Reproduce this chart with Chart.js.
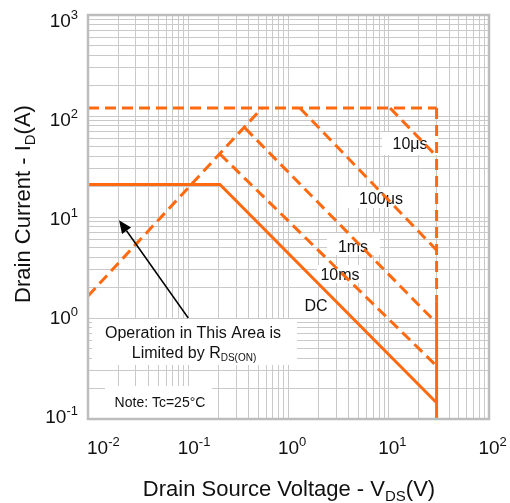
<!DOCTYPE html>
<html>
<head>
<meta charset="utf-8">
<script src="https://cdn.jsdelivr.net/npm/chart.js@4.4.0/dist/chart.umd.min.js"></script>
<style>
  html, body { margin: 0; padding: 0; background: #fff; }
</style>
</head>
<body>
<canvas id="soa" width="510" height="503"></canvas>
<script>
// ---- SOA curves (V in volts, I in amps) ----
const rdsV = [0.01, 0.545];
const rdsI = [1.65, 120];
const limitV = [0.01, 30];
const limitI = [120, 120];
const us10V = [10.3, 30];
const us10I = [120, 40];
const us100V = [1.3, 30];
const us100I = [120, 4.7];
const ms1V = [0.368, 30];
const ms1I = [76, 0.89];
const ms10V = [0.207, 30];
const ms10I = [42, 0.335];
const dcV = [0.01, 0.207, 30];
const dcI = [21, 21, 0.145];
const vmaxV = [30, 30];
const vmaxPulseI = [120, 1.45];
const vmaxDcI = [1.45, 0.1];

// axis decades + tick label exponents
const xDecades = [-2, -1, 0, 1, 2];
const yDecades = [-1, 0, 1, 2, 3];
const xTickLabels = ['-2', '-1', '0', '1', '2'];
const yTickLabels = ['-1', '0', '1', '2', '3'];
const minorSteps = [1, 2, 3, 4, 5, 6, 7, 8, 9];

const ORANGE = '#ff6a10';
const FONT = '"Liberation Sans", Arial, sans-serif';

function gridValues(decades) {
  const vals = [];
  decades.forEach((d, i) => {
    if (i === decades.length - 1) { vals.push(Math.pow(10, d)); return; }
    minorSteps.forEach(m => vals.push(m * Math.pow(10, d)));
  });
  return vals;
}

function toPoints(xs, ys) {
  return xs.map((x, i) => ({ x, y: ys[i] }));
}

function curve(label, xs, ys, dashed) {
  return {
    label,
    data: toPoints(xs, ys),
    showLine: true,
    borderColor: ORANGE,
    borderWidth: 3,
    borderDash: dashed ? [11, 6] : [],
    borderCapStyle: 'butt',
    pointRadius: 0,
    fill: false,
    tension: 0,
  };
}

// draw text made of pieces (normal / sub / sup)
function drawRich(ctx, parts, x, y, align) {
  let total = 0;
  parts.forEach(p => {
    ctx.font = p.size + 'px ' + FONT;
    p.w = ctx.measureText(p.t).width;
    total += p.w;
  });
  let cx = align === 'center' ? x - total / 2 : align === 'right' ? x - total : x;
  ctx.textAlign = 'left';
  ctx.textBaseline = 'alphabetic';
  parts.forEach(p => {
    ctx.font = p.size + 'px ' + FONT;
    ctx.fillText(p.t, cx, y + (p.dy || 0));
    cx += p.w;
  });
  return total;
}

// labels sitting on white patches over the grid
const curveLabels = [
  { text: '10μs', cx: 410, cy: 143, box: [382, 132, 56, 23] },
  { text: '100μs', cx: 381, cy: 198, box: [348, 187, 69, 21] },
  { text: '1ms', cx: 353, cy: 246, box: [327, 233, 53, 22] },
  { text: '10ms', cx: 340, cy: 274, box: [317, 265, 45, 18] },
  { text: 'DC', cx: 316, cy: 305, box: null },
];

const soaDecor = {
  id: 'soaDecor',
  beforeDatasetsDraw(chart) {
    const ctx = chart.ctx;
    ctx.save();
    ctx.fillStyle = '#fff';
    // annotation + note patches
    ctx.fillRect(92, 319, 205, 46);
    ctx.fillRect(105, 386, 107, 33);
    curveLabels.forEach(l => { if (l.box) ctx.fillRect(l.box[0], l.box[1], l.box[2], l.box[3]); });

    ctx.fillStyle = '#111';
    curveLabels.forEach(l => {
      drawRich(ctx, [{ t: l.text, size: 16 }], l.cx, l.cy + 6, 'center');
    });
    drawRich(ctx, [{ t: 'Operation in This Area is', size: 16 }], 193, 338, 'center');
    drawRich(ctx, [
      { t: 'Limited by R', size: 16 },
      { t: 'DS(ON)', size: 10, dy: 3 },
    ], 194, 358, 'center');
    drawRich(ctx, [{ t: 'Note: Tc=25°C', size: 14 }], 160, 407, 'center');
    ctx.restore();
  },
  afterDatasetsDraw(chart) {
    const ctx = chart.ctx;
    const a = chart.chartArea;
    const xs = chart.scales.x, ys = chart.scales.y;
    ctx.save();
    // plot frame
    ctx.strokeStyle = '#bdbdbd';
    ctx.lineWidth = 2.5;
    ctx.strokeRect(a.left, a.top, a.right - a.left, a.bottom - a.top);

    // arrow pointing into the Rds(on) limited region
    const x0 = xs.getPixelForValue(0.1), y0 = ys.getPixelForValue(1.0);
    const x1 = xs.getPixelForValue(0.0204), y1 = ys.getPixelForValue(9.3);
    const ang = Math.atan2(y1 - y0, x1 - x0);
    const hl = 13, hw = 5.5;
    const bx = x1 - hl * Math.cos(ang), by = y1 - hl * Math.sin(ang);
    ctx.strokeStyle = '#000';
    ctx.fillStyle = '#000';
    ctx.lineWidth = 1.5;
    ctx.beginPath();
    ctx.moveTo(x0, y0);
    ctx.lineTo(bx, by);
    ctx.stroke();
    ctx.beginPath();
    ctx.moveTo(x1, y1);
    ctx.lineTo(bx + hw * Math.sin(ang), by - hw * Math.cos(ang));
    ctx.lineTo(bx - hw * Math.sin(ang), by + hw * Math.cos(ang));
    ctx.closePath();
    ctx.fill();
    ctx.restore();
  },
  afterDraw(chart) {
    const ctx = chart.ctx;
    const a = chart.chartArea;
    const xs = chart.scales.x, ys = chart.scales.y;
    ctx.save();
    ctx.fillStyle = '#111';

    // x tick labels: "10" centred on the tick, exponent raised
    xDecades.forEach((d, i) => {
      const px = xs.getPixelForValue(Math.pow(10, d));
      ctx.font = '19px ' + FONT;
      const w10 = ctx.measureText('10').width;
      const left = Math.max(a.left - 1, px - w10 / 2);
      drawRich(ctx, [
        { t: '10', size: 19 },
        { t: xTickLabels[i], size: 13, dy: -8 },
      ], left, 454, 'left');
    });

    // y tick labels, right aligned
    yDecades.forEach((d, i) => {
      const py = ys.getPixelForValue(Math.pow(10, d));
      drawRich(ctx, [
        { t: '10', size: 19 },
        { t: yTickLabels[i], size: 13, dy: -8 },
      ], 78, py + 12 - 2 * (3 - d), 'right');
    });

    // axis titles
    drawRich(ctx, [
      { t: 'Drain Source Voltage - V', size: 22 },
      { t: 'DS', size: 15, dy: 5 },
      { t: '(V)', size: 22 },
    ], 289, 496, 'center');

    ctx.translate(30, 204);
    ctx.rotate(-Math.PI / 2);
    drawRich(ctx, [
      { t: 'Drain Current - I', size: 22 },
      { t: 'D', size: 15, dy: 5 },
      { t: '(A)', size: 22 },
    ], 0, 0, 'center');
    ctx.restore();
  },
};

const ctx = document.getElementById('soa');

new Chart(ctx, {
  type: 'scatter',
  data: {
    datasets: [
      curve('Rds(on) limit', rdsV, rdsI, true),
      curve('Id pulse limit', limitV, limitI, true),
      curve('10us', us10V, us10I, true),
      curve('100us', us100V, us100I, true),
      curve('1ms', ms1V, ms1I, true),
      curve('10ms', ms10V, ms10I, true),
      curve('Vds max pulse', vmaxV, vmaxPulseI, true),
      curve('DC', dcV, dcI, false),
      curve('Vds max DC', vmaxV, vmaxDcI, false),
    ],
  },
  options: {
    responsive: false,
    animation: false,
    layout: { padding: { left: 88, right: 21, top: 15, bottom: 84 } },
    plugins: {
      legend: { display: false },
      tooltip: { enabled: false },
    },
    scales: {
      x: {
        type: 'logarithmic',
        min: 0.01,
        max: 100,
        ticks: { display: false },
        grid: { color: '#c9c9c9', lineWidth: 1, drawTicks: false },
        border: { display: false },
        afterBuildTicks: (s) => { s.ticks = gridValues(xDecades).map(v => ({ value: v })); },
      },
      y: {
        type: 'logarithmic',
        min: 0.1,
        max: 1000,
        ticks: { display: false },
        grid: { color: '#c9c9c9', lineWidth: 1, drawTicks: false },
        border: { display: false },
        afterBuildTicks: (s) => { s.ticks = gridValues(yDecades).map(v => ({ value: v })); },
      },
    },
  },
  plugins: [soaDecor],
});
</script>
</body>
</html>
